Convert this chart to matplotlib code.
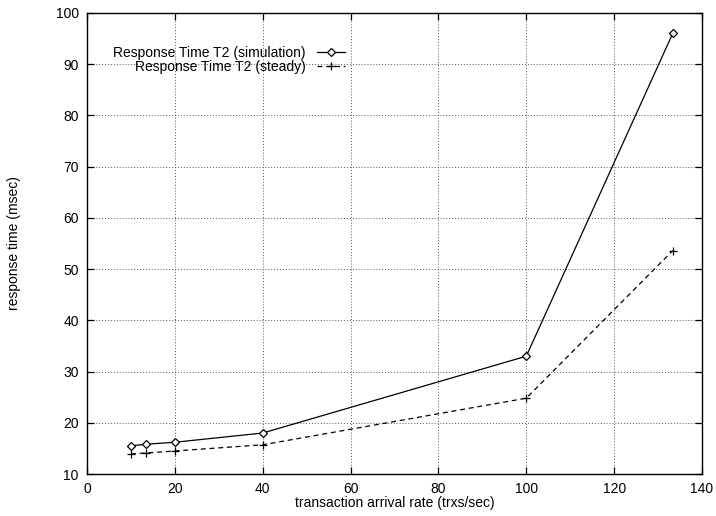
import matplotlib
matplotlib.use("Agg")
import matplotlib.pyplot as plt

plt.rcParams['font.family'] = ['Liberation Sans', 'DejaVu Sans']

rate = [10, 13.33, 20, 40, 100, 133.33]
sim = [15.5, 15.8, 16.2, 18.0, 33.0, 96.0]
steady = [13.9, 14.1, 14.5, 15.7, 24.8, 53.6]

xticks = [0, 20, 40, 60, 80, 100, 120, 140]
yticks = [10, 20, 30, 40, 50, 60, 70, 80, 90, 100]

fig = plt.figure(figsize=(7.16, 5.16), dpi=100)
ax = fig.add_axes([87/716, 1-474/516, (702-87)/716, (474-13)/516])

ax.plot(rate, sim, color='black', lw=0.9, marker='D', markersize=3.8,
        markerfacecolor='white', markeredgecolor='black', markeredgewidth=0.9,
        label='Response Time T2 (simulation)')
ax.plot(rate, steady, color='black', lw=0.9, ls=(0, (4, 3)), marker='+',
        markersize=6, markeredgewidth=0.9,
        label='Response Time T2 (steady)')

ax.set_xlim(0, 140)
ax.set_ylim(10, 100)
ax.set_xticks(xticks)
ax.set_yticks(yticks)
ax.tick_params(direction='in', length=5, width=0.9, top=True, right=True,
               labelsize=10, pad=6)
ax.grid(True, color='#555555', ls=(0, (1, 2)), lw=0.7)
for s in ax.spines.values():
    s.set_linewidth(1.0)

ax.set_xlabel('transaction arrival rate (trxs/sec)', fontsize=10, labelpad=0)
ax.set_ylabel('response time (msec)', fontsize=10, labelpad=25)

ax.legend(loc='upper left', bbox_to_anchor=(0.0226, 0.956), frameon=False,
          markerfirst=False, fontsize=10, handlelength=2.0,
          labelspacing=0.0, handletextpad=0.8)

fig.savefig('out.png', dpi=100)
